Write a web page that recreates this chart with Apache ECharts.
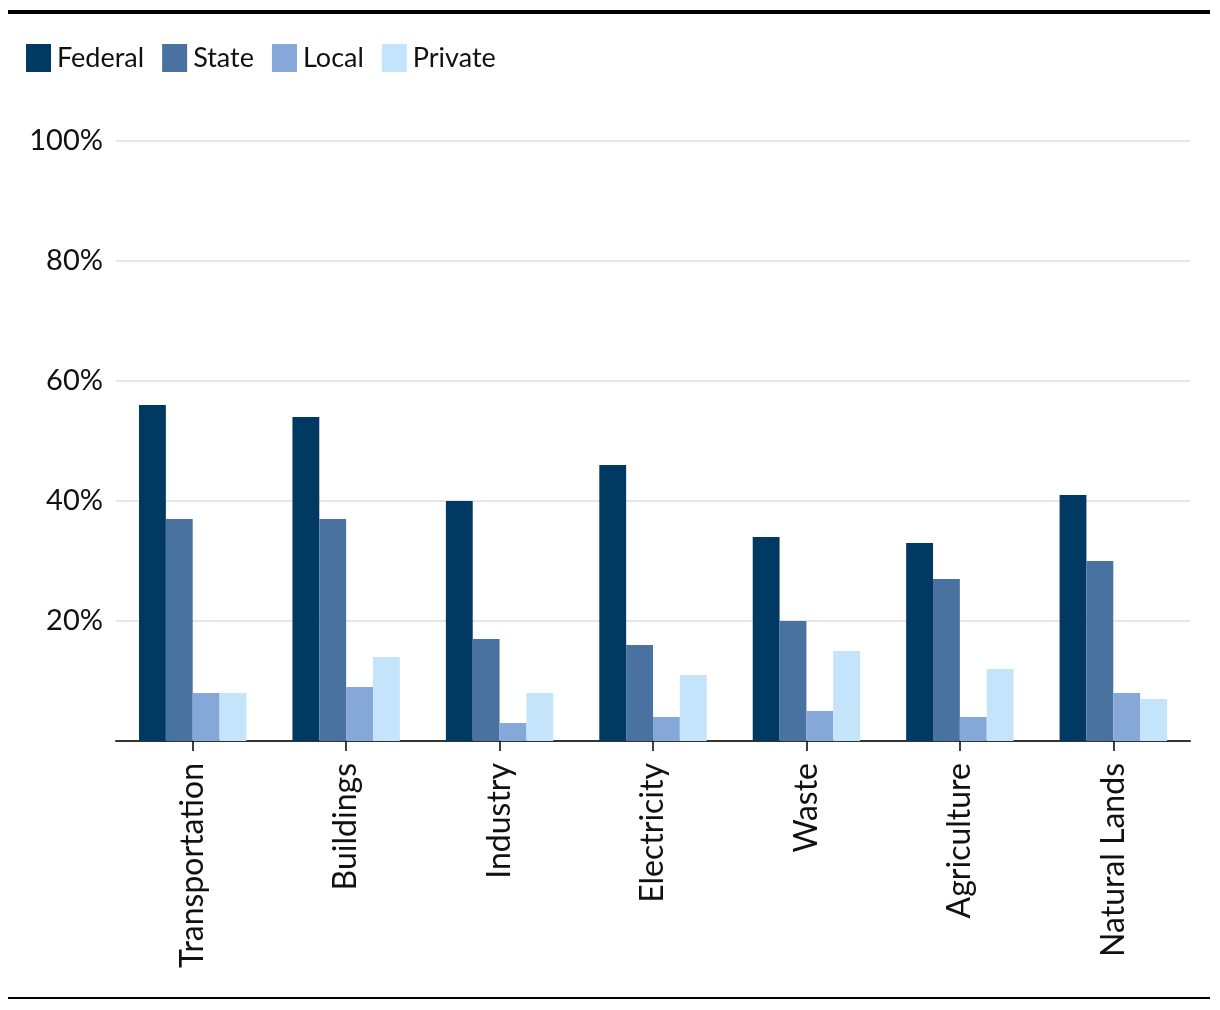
<!DOCTYPE html>
<html><head><meta charset="utf-8">
<script src="https://cdn.jsdelivr.net/npm/echarts@6/dist/echarts.min.js"></script>
<style>html,body{margin:0;padding:0;background:#fff}#c{width:1220px;height:1010px}</style>
</head><body><div id="c"></div>
<script>
const categories = ['Transportation','Buildings','Industry','Electricity','Waste','Agriculture','Natural Lands'];
const seriesNames = ['Federal','State','Local','Private'];
const federal = [56,54,40,46,34,33,41];
const state = [37,37,17,16,20,27,30];
const local = [8,9,3,4,5,4,8];
const privateV = [8,14,8,11,15,12,7];
const yTicks = [0,20,40,60,80,100];
const colors = ['#003a63','#4a72a0','#86a8d9','#c3e4fb'];
const values = [federal,state,local,privateV];
const FONT = 'Lato';
const chart = echarts.init(document.getElementById('c'));
chart.setOption({
  animation:false,
  color:colors,
  textStyle:{fontFamily:FONT},
  legend:{left:26,top:44,padding:0,itemWidth:25,itemHeight:28,itemGap:18,icon:'rect',
    textStyle:{fontSize:27,color:'#111',fontFamily:FONT,padding:[0,0,0,1]},
    data:seriesNames},
  grid:{left:116,right:30,top:141,bottom:269,containLabel:false},
  xAxis:{type:'category',data:categories,
    axisLine:{lineStyle:{color:'#333',width:2}},
    axisTick:{show:true,alignWithLabel:true,length:10,lineStyle:{color:'#000',width:1.5}},
    axisLabel:{rotate:90,fontSize:32,color:'#111',margin:22,fontFamily:FONT,interval:0}},
  yAxis:{type:'value',min:0,max:100,interval:20,
    axisLine:{show:false},axisTick:{show:false},
    splitLine:{lineStyle:{color:'#e6e6e6',width:2}},
    axisLabel:{fontSize:29,color:'#111',margin:13,fontFamily:FONT,padding:[5,0,0,0],
      formatter:v=> (v===0?'':v+'%')}},
  series:seriesNames.map((n,i)=>({name:n,type:'bar',data:values[i],barGap:'0%',barCategoryGap:'30%',
    itemStyle:{color:colors[i]}})),
  graphic:[
    {type:'rect',shape:{x:8,y:10,width:1202,height:4},style:{fill:'#000'},silent:true},
    {type:'rect',shape:{x:8,y:997,width:1202,height:2},style:{fill:'#000'},silent:true}
  ]
});
</script></body></html>
